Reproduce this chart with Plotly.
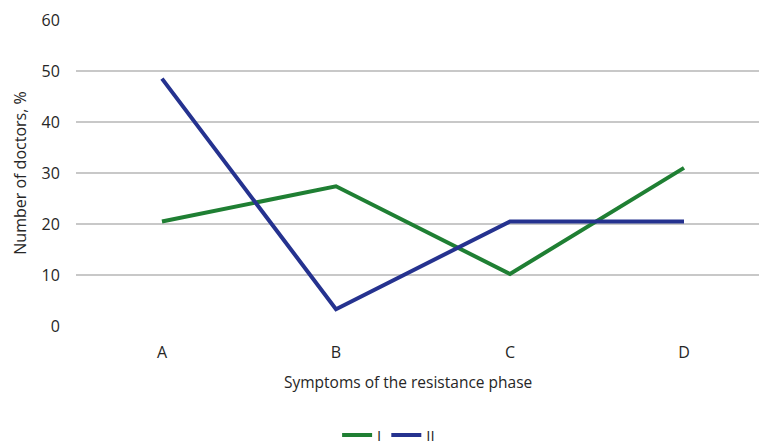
import plotly.graph_objects as go

categories = ["A", "B", "C", "D"]
series_I = [20.5, 27.4, 10.2, 31.0]
series_II = [48.5, 3.3, 20.5, 20.5]
y_ticks = [0, 10, 20, 30, 40, 50, 60]

FONT = "Open Sans, Liberation Sans, sans-serif"
TEXT = "#262626"

fig = go.Figure()
fig.add_trace(go.Scatter(
    x=categories, y=series_I, name="I", mode="lines",
    line=dict(color="#1F7F33", width=4),
))
fig.add_trace(go.Scatter(
    x=categories, y=series_II, name="II", mode="lines",
    line=dict(color="#25328F", width=4),
))

fig.update_layout(
    width=759, height=445,
    margin=dict(l=76, r=0, t=20, b=119, autoexpand=False),
    paper_bgcolor="white", plot_bgcolor="white",
    font=dict(family=FONT, size=16, color=TEXT),
    showlegend=True,
    legend=dict(orientation="h", xref="container", yref="container",
                x=0.512, xanchor="center", y=0.022, yanchor="middle",
                font=dict(size=15, color=TEXT), traceorder="normal"),
    annotations=[dict(
        text="Symptoms of the resistance phase",
        xref="paper", yref="paper", x=0.486, y=-0.183,
        xanchor="center", yanchor="middle", showarrow=False,
        font=dict(size=15.5, color=TEXT),
    )],
)
fig.update_xaxes(
    type="category", range=[-0.494, 3.431],
    showgrid=False, zeroline=False, showline=False,
    ticks="outside", ticklen=12, tickcolor="rgba(0,0,0,0)",
    tickfont=dict(size=16, color=TEXT),
)
fig.update_yaxes(
    range=[0, 60], tickvals=y_ticks,
    showgrid=True, gridcolor="#C8C8C8", gridwidth=1.5,
    zeroline=False, showline=False,
    ticks="outside", ticklen=12, tickcolor="rgba(0,0,0,0)",
    tickfont=dict(size=16, color=TEXT),
    title=dict(text="Number of doctors, %", standoff=10,
               font=dict(size=16, color=TEXT)),
)

fig.write_html("out.html")
